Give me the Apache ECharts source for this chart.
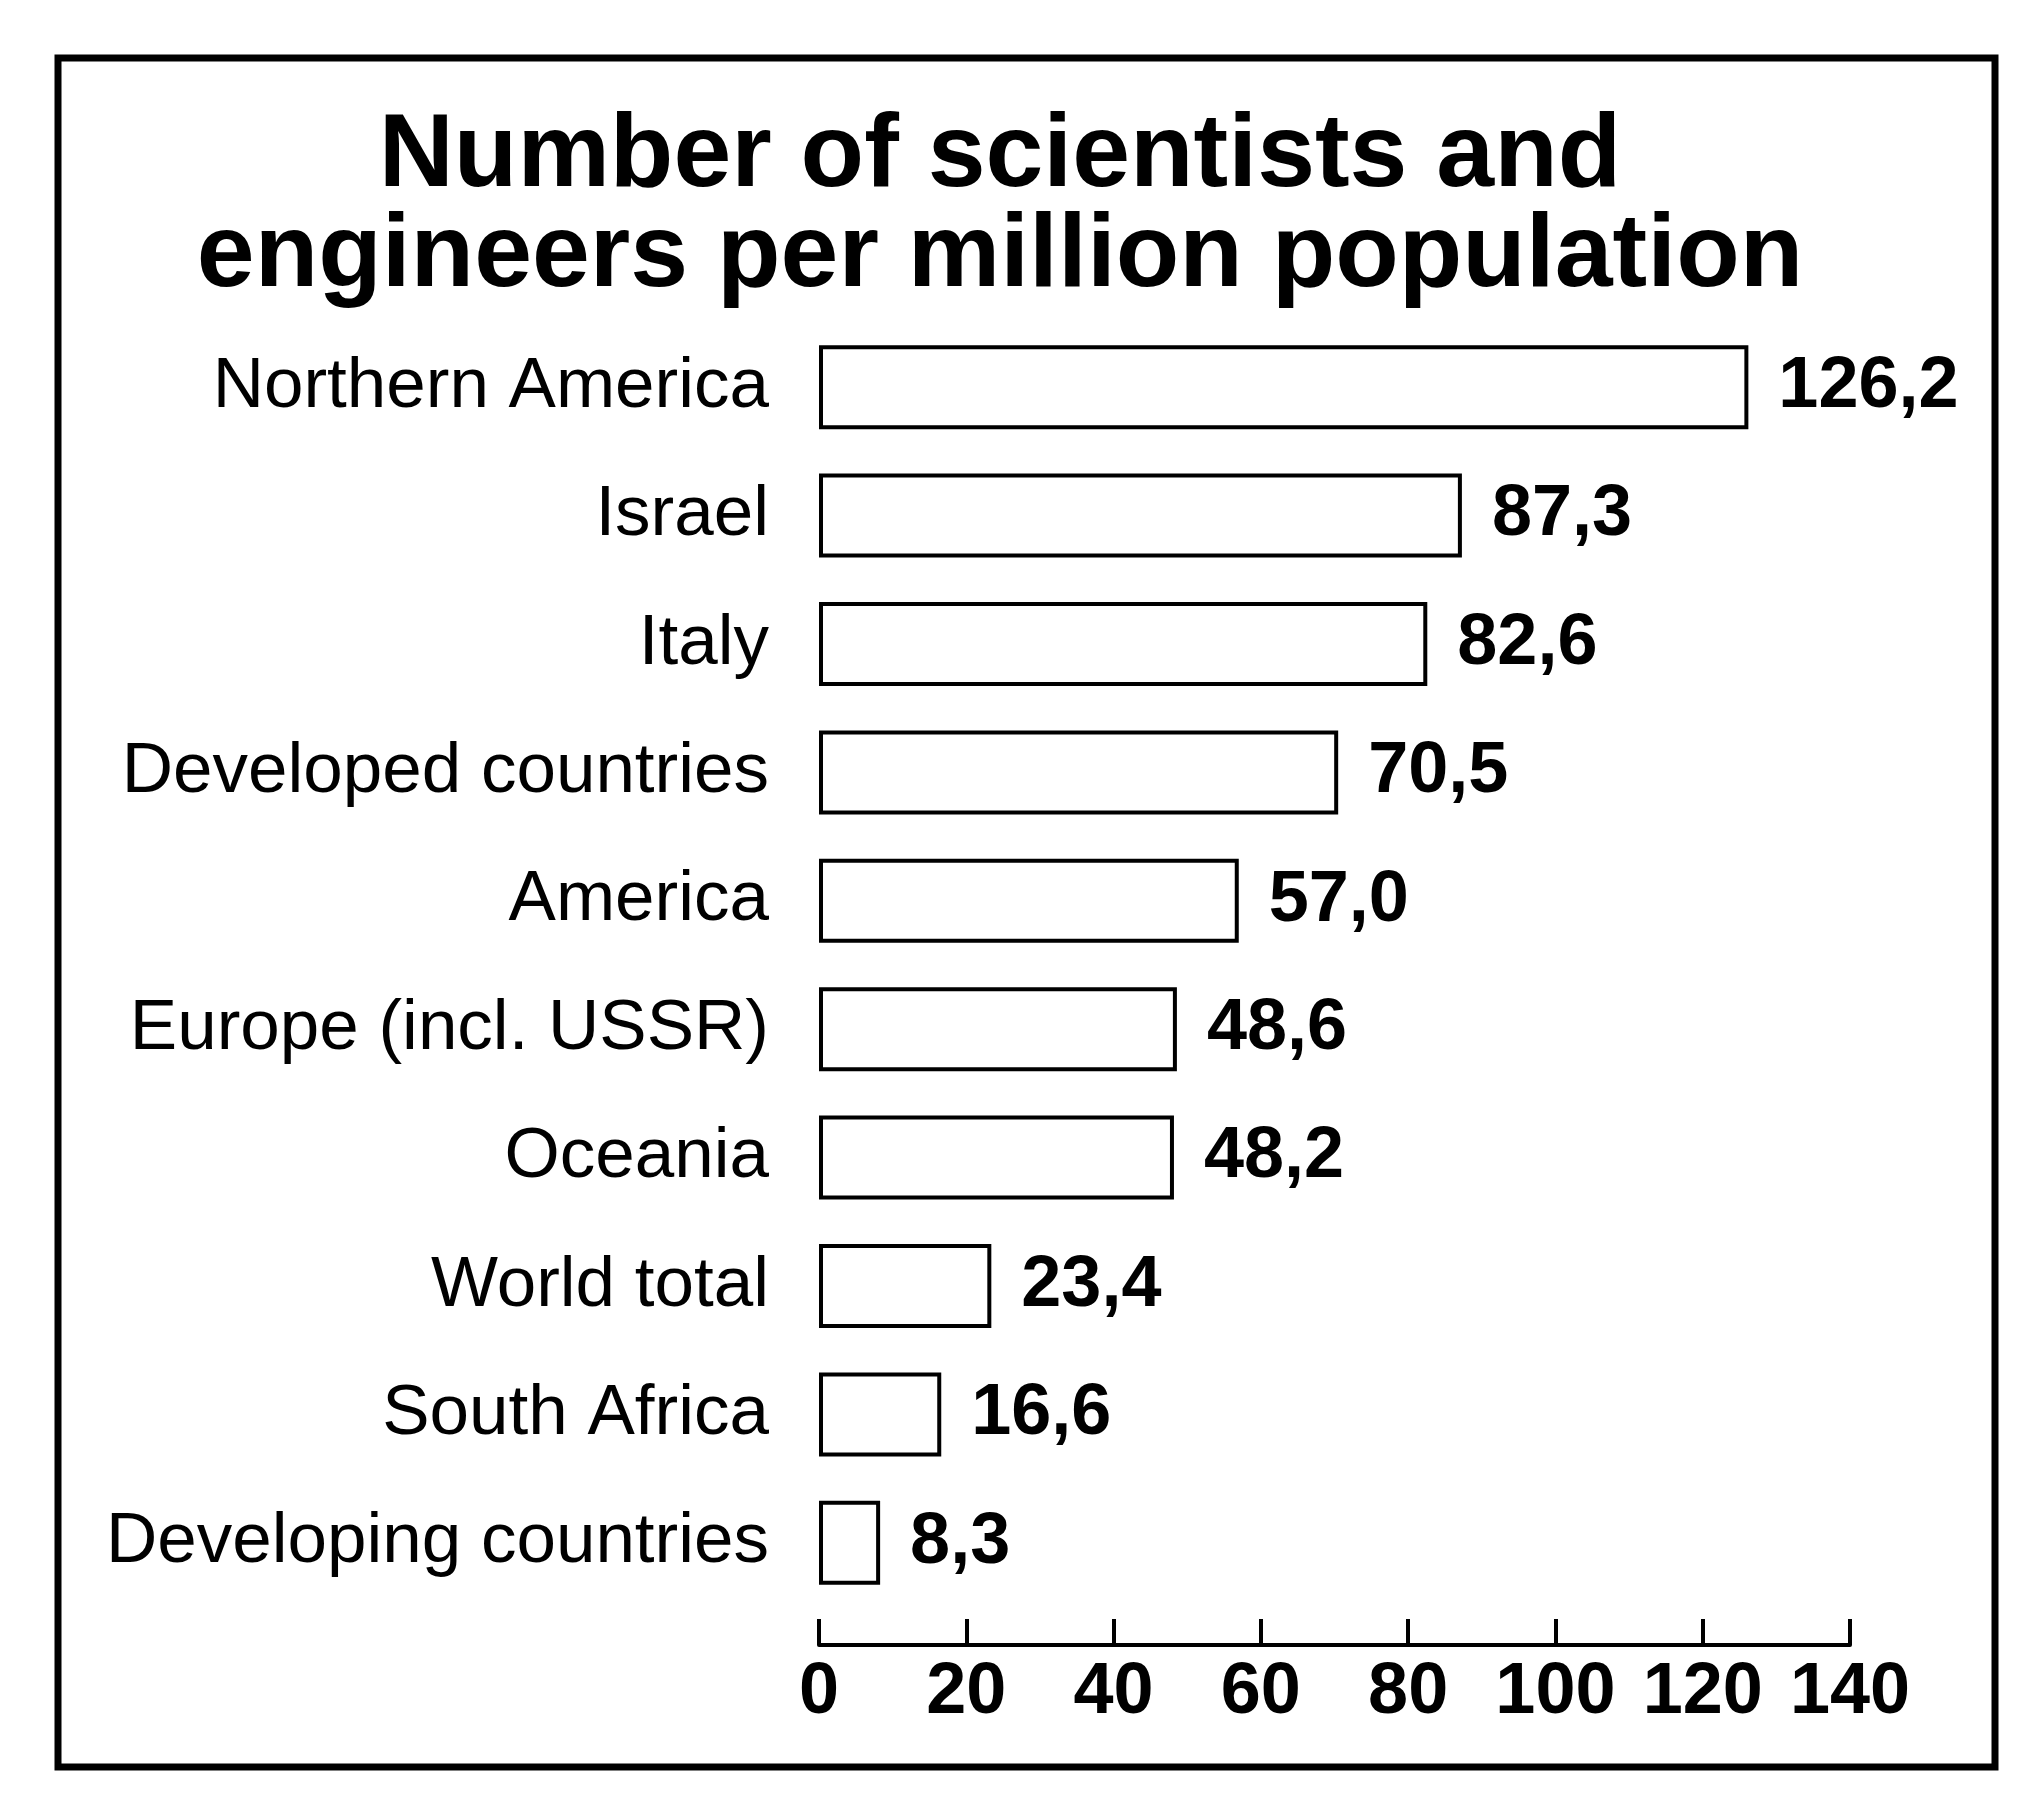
<!DOCTYPE html>
<html>
<head>
<meta charset="utf-8">
<script src="https://cdn.jsdelivr.net/npm/echarts@6/dist/echarts.min.js"></script>
<style>
    html, body { margin: 0; padding: 0; background: #fff; }
    #chart { width: 2025px; height: 1811px; }
</style>
</head>
<body>
<div id="chart"></div>
<script>
// categories, top to bottom
const regions = [
    "Northern America",
    "Israel",
    "Italy",
    "Developed countries",
    "America",
    "Europe (incl. USSR)",
    "Oceania",
    "World total",
    "South Africa",
    "Developing countries",
];
// scientists and engineers per million population
const perMillion = [126.2, 87.3, 82.6, 70.5, 57.0, 48.6, 48.2, 23.4, 16.6, 8.3];
const xTicks = [0, 20, 40, 60, 80, 100, 120, 140];

const font = "Liberation Sans, Arial, Helvetica, sans-serif";

let myChart = echarts.init(document.getElementById("chart"));

let option = {
    backgroundColor: "#fff",
    animation: false,
    title: {
        text: "Number of scientists and\nengineers per million population",
        left: 995,
        top: 102,
        textAlign: "center",
        textStyle: {
            fontFamily: font,
            fontWeight: "bold",
            fontSize: 104,
            lineHeight: 100,
            color: "#000",
        },
    },
    graphic: [
        {
            // frame round the figure
            type: "rect",
            shape: { x: 58, y: 58, width: 1937, height: 1709 },
            style: { fill: "none", stroke: "#000", lineWidth: 7 },
        },
    ],
    grid: {
        left: 819,
        right: 175,
        top: 323,
        bottom: 204,
    },
    xAxis: {
        type: "value",
        min: xTicks[0],
        max: xTicks[xTicks.length - 1],
        interval: 20,
        offset: 38,
        axisLine: { show: true, lineStyle: { color: "#000", width: 4 } },
        axisTick: { show: true, inside: true, length: 26, lineStyle: { color: "#000", width: 4 } },
        axisLabel: {
            margin: 12,
            color: "#000",
            fontFamily: font,
            fontWeight: "bold",
            fontSize: 72,
        },
        splitLine: { show: false },
    },
    yAxis: {
        type: "category",
        inverse: true,
        data: regions,
        axisLine: { show: false },
        axisTick: { show: false },
        axisLabel: {
            margin: 50,
            color: "#000",
            fontFamily: font,
            fontSize: 71,
        },
    },
    series: [
        {
            type: "bar",
            data: perMillion,
            barWidth: 84,
            itemStyle: {
                color: "#fff",
                borderColor: "#000",
                borderWidth: 4,
            },
            label: {
                show: true,
                position: "right",
                distance: 30,
                color: "#000",
                fontFamily: font,
                fontWeight: "bold",
                fontSize: 72,
                formatter: function (p) {
                    return p.value.toFixed(1).replace(".", ",");
                },
            },
        },
    ],
};

myChart.setOption(option);
</script>
</body>
</html>
